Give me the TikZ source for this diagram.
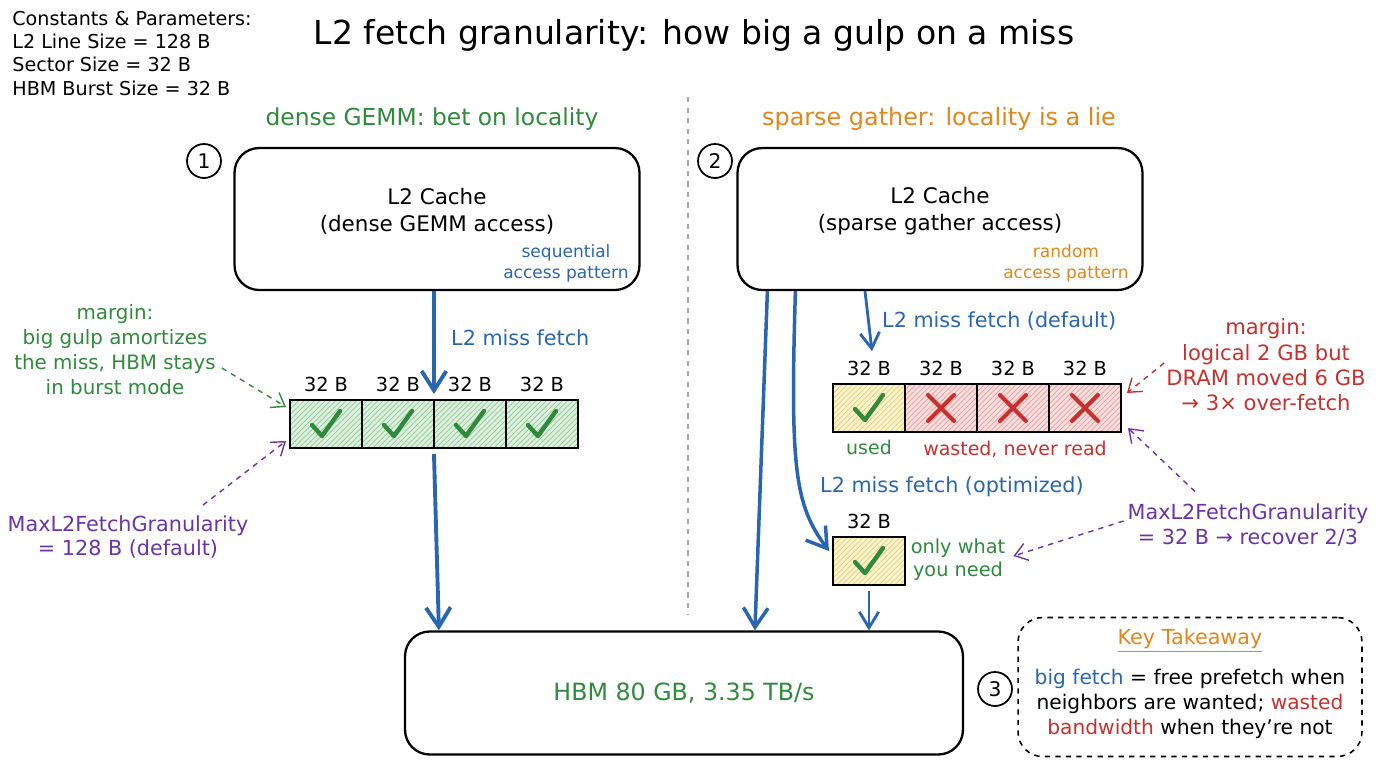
\documentclass[tikz,border=0pt]{standalone}
\usepackage{fontspec}
\setmainfont{DejaVu Sans}
\usepackage{xcolor}
\usepackage{tikz}
\usetikzlibrary{arrows.meta,patterns,positioning,calc}

\definecolor{fetchblue}{HTML}{2A66B0}
\definecolor{okgreen}{HTML}{2F8A3B}
\definecolor{gatherorange}{HTML}{E0861A}
\definecolor{wastered}{HTML}{C8302E}
\definecolor{granpurple}{HTML}{6B33A6}
\definecolor{greenfill}{HTML}{DDF0DE}
\definecolor{greenhatch}{HTML}{93C99A}
\definecolor{yellowfill}{HTML}{FBF4CF}
\definecolor{yellowhatch}{HTML}{E6CE78}
\definecolor{redfill}{HTML}{F9DEDE}
\definecolor{redhatch}{HTML}{E6A0A0}

\tikzset{
tick/.pic={\draw[okgreen,line width=2.5pt,line cap=round,line join=round](-14,1)--(-4,12)--(14,-13);},
cross/.pic={\draw[wastered,line width=2.3pt,line cap=round](-13,-13)--(13,13)(-13,13)--(13,-13);}
}

\begin{document}
\begin{tikzpicture}[x=0.02cm,y=-0.02cm,
fetch/.style={fetchblue,line width=2.2pt,-{Straight Barb[length=11pt,width=14pt]}},
thinfetch/.style={fetchblue,line width=1.6pt,-{Straight Barb[length=9pt,width=11pt]}},
note/.style={dashed,line width=0.8pt,-{Straight Barb[length=7pt,width=10pt]}},
cachebox/.style={draw,line width=1.3pt,rounded corners=14pt,minimum width=8.1cm,minimum height=2.84cm},
cell/.style={draw,line width=0.9pt,minimum width=1.44cm,minimum height=0.96cm,inner sep=0,outer sep=0},
okcell/.style={cell,preaction={fill=greenfill},pattern=north east lines,pattern color=greenhatch},
usedcell/.style={cell,preaction={fill=yellowfill},pattern=north east lines,pattern color=yellowhatch},
wastecell/.style={cell,preaction={fill=redfill},pattern=north east lines,pattern color=redhatch},
sizelbl/.style={font=\fontsize{11}{13}\selectfont},
fetchlbl/.style={fetchblue,anchor=west,font=\fontsize{11.8}{14}\selectfont},
lbl/.style={font=\fontsize{10.8}{13}\selectfont},
marginal/.style={align=center,font=\fontsize{11.3}{14.2}\selectfont},
badge/.style={draw,circle,line width=1pt,minimum size=0.68cm,inner sep=0,font=\fontsize{11.5}{13}\selectfont},
boxtext/.style={align=center,font=\fontsize{12.2}{15.3}\selectfont},
smallnote/.style={align=center,font=\fontsize{9.7}{12}\selectfont}]
\useasboundingbox(0,0)rectangle(1376,768);

% title and constants
\node[font=\fontsize{18.8}{22}\selectfont](title)at(694,35){L2 fetch granularity: how big a gulp on a miss};
\node[anchor=north west,align=left,inner sep=0,font=\fontsize{10.9}{13.2}\selectfont](consts)at(12,11)
{Constants \& Parameters:\\L2 Line Size = 128 B\\Sector Size = 32 B\\HBM Burst Size = 32 B};
\node[okgreen,font=\fontsize{13.3}{15}\selectfont](hdense)at(432,119){dense GEMM: bet on locality};
\node[gatherorange,font=\fontsize{13.6}{15}\selectfont](hsparse)at(939,119){sparse gather: locality is a lie};
\draw[gray!70,dashed,line width=0.8pt](688,97)--(688,615);

% caches
\node[badge](n1)at(204,161){1};
\node[badge](n2)at(715,161){2};
\node[cachebox](l2a)at(437,219){};
\node[cachebox](l2b)at(940,219){};
\node[boxtext](l2atxt)at(437,211){L2 Cache\\(dense GEMM access)};
\node[boxtext](l2btxt)at(940,211){L2 Cache\\(sparse gather access)};
\node[smallnote,fetchblue](seqnote)at(566,263){sequential\\access pattern};
\node[smallnote,gatherorange](rndnote)at(1066,263){random\\access pattern};

% dense side
\node[okcell](a1)at(326,424){};
\node[okcell,right=0pt of a1](a2){};
\node[okcell,right=0pt of a2](a3){};
\node[okcell,right=0pt of a3](a4){};
\node[sizelbl,above=1pt of a1](sa1){32 B};
\node[sizelbl,above=1pt of a2](sa2){32 B};
\node[sizelbl,above=1pt of a3](sa3){32 B};
\node[sizelbl,above=1pt of a4](sa4){32 B};
\pic at(a1){tick};
\pic at(a2){tick};
\pic at(a3){tick};
\pic at(a4){tick};
\draw[fetch](l2a.south -| a2.north east)--($(a2.north east)+(0,-6)$);
\node[fetchlbl](missa)at(445,338){L2 miss fetch};

% sparse side
\node[usedcell](b1)at(869,408){};
\node[wastecell,right=0pt of b1](b2){};
\node[wastecell,right=0pt of b2](b3){};
\node[wastecell,right=0pt of b3](b4){};
\node[sizelbl,above=1pt of b1](sb1){32 B};
\node[sizelbl,above=1pt of b2](sb2){32 B};
\node[sizelbl,above=1pt of b3](sb3){32 B};
\node[sizelbl,above=1pt of b4](sb4){32 B};
\pic at(b1){tick};
\pic at(b2){cross};
\pic at(b3){cross};
\pic at(b4){cross};
\node[lbl,okgreen,below=1pt of b1](used){used};
\node[lbl,wastered](wasted)at(1015,449){wasted, never read};
\draw[thinfetch]($(l2b.south)+(-75,0)$)--($(sb1.north)+(3,-4)$);
\node[fetchlbl](missb)at(876,321){L2 miss fetch (default)};

\node[usedcell](opt)at(869,561){};
\node[sizelbl,above=1pt of opt](sopt){32 B};
\pic at(opt){tick};
\node[lbl,okgreen,align=center,font=\fontsize{11}{13}\selectfont](needtxt)at(958,560){only what\\you need};
\node[fetchlbl](missc)at(814,487){L2 miss fetch (optimized)};

% memory
\node[draw,text=okgreen,line width=1.3pt,rounded corners=14pt,minimum width=11.16cm,minimum height=2.46cm,
font=\fontsize{13.5}{15}\selectfont](hbm)at(684,693){HBM 80 GB, 3.35 TB/s};
\node[badge](n3)at(995,689){3};
\draw[fetch]($(a2.south east)+(0,6)$)--($(hbm.north west)+(35,0)$);
\draw[fetch,line width=2pt]($(l2b.south west)+(31,0)$)--($(hbm.north west)+(351,0)$);
\draw[fetch,line width=2pt]($(l2b.south west)+(59,0)$)..controls(790,470)and(795,505)..($(opt.west)+(-4,-10)$);
\draw[thinfetch]($(opt.south)+(0,6)$)--(opt.south |- hbm.north);

% margin notes
\node[marginal,okgreen](gulp)at(115,350){margin:\\big gulp amortizes\\the miss, HBM stays\\in burst mode};
\node[marginal,granpurple,font=\fontsize{11.8}{14.2}\selectfont](gran1)at(128,537){MaxL2FetchGranularity\\= 128 B (default)};
\node[marginal,wastered,font=\fontsize{12}{14.4}\selectfont](overf)at(1266,365){margin:\\logical 2 GB but\\DRAM moved 6 GB\\→ 3× over-fetch};
\node[marginal,granpurple,font=\fontsize{11.8}{14.2}\selectfont](gran2)at(1248,525){MaxL2FetchGranularity\\= 32 B → recover 2/3};
\draw[note,okgreen]($(gulp.east)+(0,18)$)--($(a1.north west)+(-4,7)$);
\draw[note,granpurple]($(gran1.north)+(75,-4)$)--($(a1.south west)+(-4,-7)$);
\draw[note,wastered]($(overf.west)+(4,-2)$)--($(b4.north east)+(6,9)$);
\draw[note,granpurple]($(gran2.north)+(-53,-6)$)--($(b4.south east)+(7,-4)$);
\draw[note,granpurple]($(gran2.west)+(2,-4)$)--($(needtxt.east)+(2,-4)$);

% takeaway
\node[draw,dashed,line width=0.9pt,rounded corners=14pt,minimum width=6.88cm,minimum height=2.78cm](key)at(1190,687){};
\node[gatherorange,font=\fontsize{11.8}{13}\selectfont](keyhead)at(1190,641){\underline{Key Takeaway}};
\node[align=center,font=\fontsize{11.5}{14.4}\selectfont](keytxt)at(1190,704)
{{\color{fetchblue}big fetch} = free prefetch when\\neighbors are wanted; {\color{wastered}wasted}\\{\color{wastered}bandwidth} when they're not};
\end{tikzpicture}
\end{document}
